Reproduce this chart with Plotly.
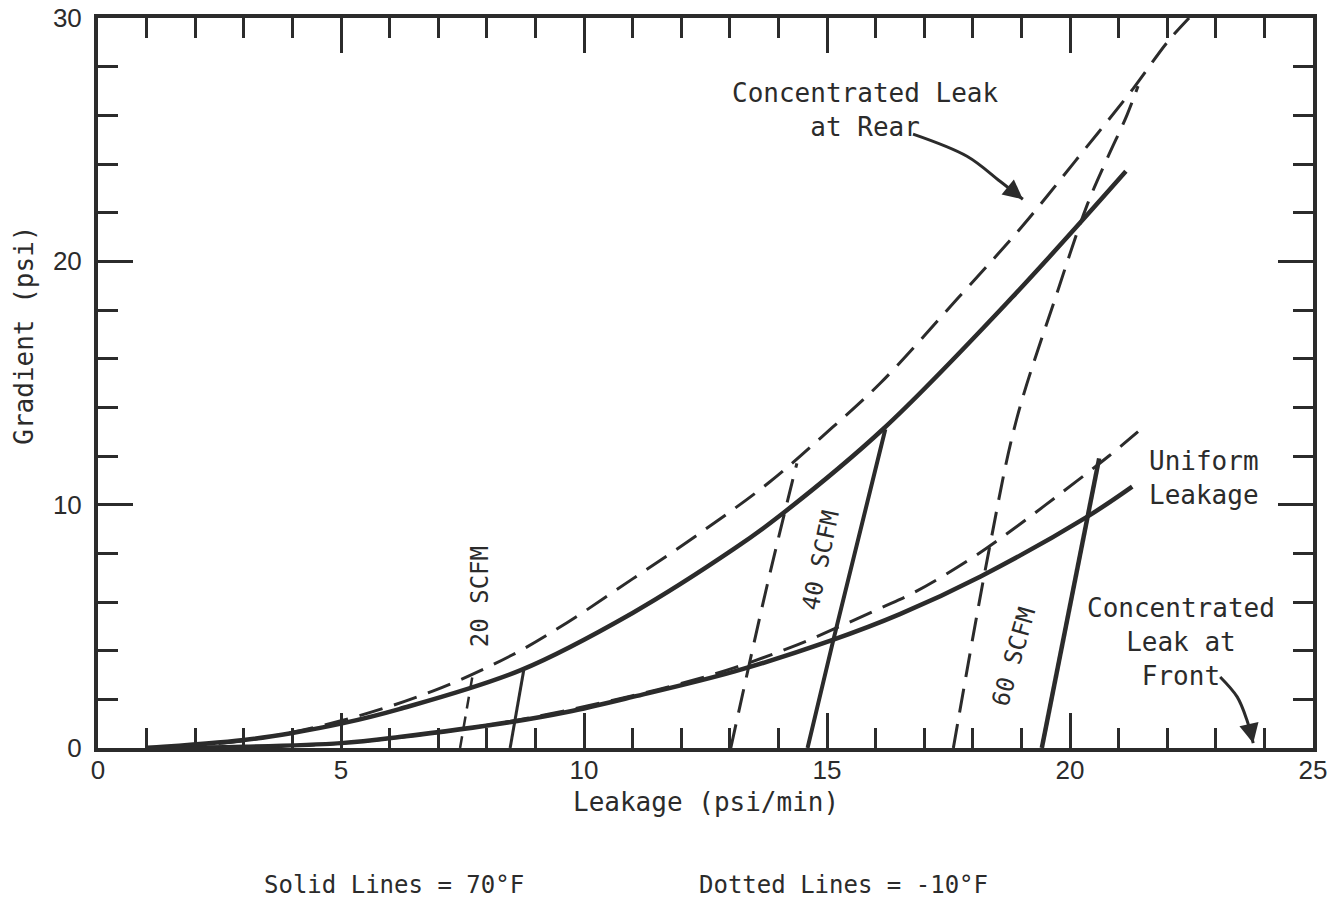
import plotly.graph_objects as go

# ---------------- data ----------------
# Concentrated leak at rear, 70F (solid)
rear_solid_x = [1.0, 3.0, 4.0, 5.0, 6.2, 8.7, 11.0, 13.1, 14.0, 16.15, 18.8, 21.15]
rear_solid_y = [0.0, 0.33, 0.62, 1.0, 1.6, 3.2, 5.55, 8.2, 9.5, 13.1, 18.5, 23.7]
# Concentrated leak at rear, -10F (dashed)
rear_dash_x = [1.0, 3.0, 5.0, 6.9, 8.5, 9.65, 11.0, 12.4, 13.8, 14.9, 16.1, 17.7, 19.0, 20.1, 21.3, 22.0, 22.45]
rear_dash_y = [0.0, 0.3, 1.12, 2.35, 3.8, 5.15, 6.95, 8.85, 10.9, 12.8, 15.0, 18.5, 21.4, 24.1, 27.1, 29.0, 30.0]
# Uniform leakage, 70F (solid)
unif_solid_x = [1.0, 3.0, 5.0, 6.2, 8.5, 9.65, 11.0, 13.1, 15.06, 16.5, 18.15, 20.35, 21.28]
unif_solid_y = [0.0, 0.05, 0.2, 0.45, 1.07, 1.48, 2.1, 3.15, 4.4, 5.5, 7.04, 9.5, 10.74]
# Uniform leakage, -10F (dashed)
unif_dash_x = [1.0, 5.0, 8.5, 11.0, 12.0, 13.1, 14.4, 15.1, 16.1, 16.8, 17.9, 18.8, 19.8, 20.8, 21.4]
unif_dash_y = [0.0, 0.2, 1.1, 2.15, 2.65, 3.3, 4.25, 4.85, 5.75, 6.4, 7.7, 8.95, 10.45, 12.0, 13.0]

# Constant-flow lines
scfm20_solid_x = [8.48, 8.76]
scfm20_solid_y = [0.0, 3.2]
scfm20_dash_x = [7.45, 7.7]
scfm20_dash_y = [0.0, 2.9]
scfm40_solid_x = [14.6, 15.12, 16.2]
scfm40_solid_y = [0.0, 4.35, 13.1]
scfm40_dash_x = [13.02, 13.77, 14.38]
scfm40_dash_y = [0.0, 6.7, 11.7]
scfm60_solid_x = [19.42, 20.35, 20.6]
scfm60_solid_y = [0.0, 9.45, 11.9]
scfm60_dash_x = [17.6, 18.35, 18.9, 19.7, 20.35, 20.76, 21.17, 21.4]
scfm60_dash_y = [0.0, 8.3, 13.5, 18.5, 22.3, 24.2, 26.0, 27.2]

# Annotation arrows (curved pointers)
rear_arrow_x = [16.77, 17.88, 18.56, 19.03]
rear_arrow_y = [25.23, 24.32, 23.29, 22.55]
front_arrow_x = [23.09, 23.44, 23.64, 23.77]
front_arrow_y = [2.92, 2.1, 1.15, 0.2]

x_ticks = [0, 5, 10, 15, 20, 25]
y_ticks = [0, 10, 20, 30]

INK = "#2b2b2b"
MONO = "DejaVu Sans Mono, Liberation Mono, monospace"
SANS = "Liberation Sans, Arial, sans-serif"

fig = go.Figure()

def add(x, y, width, dash=None, shape="spline"):
    fig.add_trace(go.Scatter(
        x=x, y=y, mode="lines",
        line=dict(color=INK, width=width, dash=dash, shape=shape,
                  smoothing=1.0 if shape == "spline" else None),
        showlegend=False, hoverinfo="skip"))

DASH = "24px,12px"
add(rear_solid_x, rear_solid_y, 4.5)
add(rear_dash_x, rear_dash_y, 3, DASH)
add(unif_solid_x, unif_solid_y, 4.5)
add(unif_dash_x, unif_dash_y, 3, DASH)
add(scfm20_solid_x, scfm20_solid_y, 3, shape="linear")
add(scfm20_dash_x, scfm20_dash_y, 2.5, "12px,8px", shape="linear")
add(scfm40_solid_x, scfm40_solid_y, 4, shape="linear")
add(scfm40_dash_x, scfm40_dash_y, 3, DASH)
add(scfm60_solid_x, scfm60_solid_y, 4.5, shape="linear")
add(scfm60_dash_x, scfm60_dash_y, 3, DASH)
add(rear_arrow_x, rear_arrow_y, 3)
add(front_arrow_x, front_arrow_y, 3)

annotations = [
    dict(x=15.78, y=26.2, text="Concentrated Leak<br>at Rear"),
    dict(x=22.76, y=11.1, text="Uniform<br>Leakage"),
    dict(x=22.28, y=4.36, text="Concentrated<br>Leak at<br>Front"),
]
for a in annotations:
    fig.add_annotation(x=a["x"], y=a["y"], text=a["text"], showarrow=False,
                       xanchor="center", yanchor="middle",
                       font=dict(family=MONO, size=26, color=INK), align="center")

# Rotated flow labels
for x, y, t, ang in [(7.86, 6.2, "20 SCFM", -90), (14.86, 7.7, "40 SCFM", -78),
                     (18.84, 3.75, "60 SCFM", -74)]:
    fig.add_annotation(x=x, y=y, text=t, textangle=ang, showarrow=False,
                       xanchor="center", yanchor="middle",
                       font=dict(family=MONO, size=24, color=INK))

# Arrow heads
fig.add_annotation(x=rear_arrow_x[-1], y=rear_arrow_y[-1], text="", showarrow=True,
                   ax=-16, ay=-13, arrowhead=2, arrowsize=1.3, arrowwidth=3, arrowcolor=INK)
fig.add_annotation(x=front_arrow_x[-1], y=front_arrow_y[-1], text="", showarrow=True,
                   ax=-4, ay=-18, arrowhead=2, arrowsize=1.3, arrowwidth=3, arrowcolor=INK)

# Axis titles & footnote (paper coordinates)
fig.add_annotation(xref="paper", yref="paper", x=-0.061, y=0.566, text="Gradient (psi)",
                   textangle=-90, showarrow=False, xanchor="center", yanchor="middle",
                   font=dict(family=MONO, size=26, color=INK))
fig.add_annotation(xref="paper", yref="paper", x=0.5, y=(748 - 802) / 730,
                   text="Leakage (psi/min)",
                   showarrow=False, xanchor="center", yanchor="middle",
                   font=dict(family=MONO, size=26, color=INK))
fig.add_annotation(xref="paper", yref="paper", x=(262 - 98) / 1215, y=-0.1877,
                   text="Solid Lines = 70°F", showarrow=False, xanchor="left", yanchor="middle",
                   font=dict(family=MONO, size=24, color=INK))
fig.add_annotation(xref="paper", yref="paper", x=(697 - 98) / 1215, y=-0.1877,
                   text="Dotted Lines = -10°F", showarrow=False, xanchor="left", yanchor="middle",
                   font=dict(family=MONO, size=24, color=INK))

axis_common = dict(showgrid=False, zeroline=False, showline=True, linewidth=4,
                   linecolor=INK, mirror="ticks", ticks="inside", tickwidth=3,
                   tickcolor=INK, ticklen=35,
                   tickfont=dict(family=SANS, size=26, color=INK))
fig.update_xaxes(range=[0, 25], tickvals=x_ticks,
                 minor=dict(dtick=1, ticks="inside", ticklen=20, tickwidth=3, tickcolor=INK),
                 ticklabelstandoff=-4, **axis_common)
fig.update_yaxes(range=[0, 30], tickvals=y_ticks,
                 minor=dict(dtick=2, ticks="inside", ticklen=20, tickwidth=3, tickcolor=INK),
                 ticklabelstandoff=7, **axis_common)

fig.update_layout(width=1329, height=903,
                  margin=dict(l=98, r=16, t=18, b=155, autoexpand=False),
                  paper_bgcolor="white", plot_bgcolor="white", showlegend=False)

fig.write_html("out.html")
